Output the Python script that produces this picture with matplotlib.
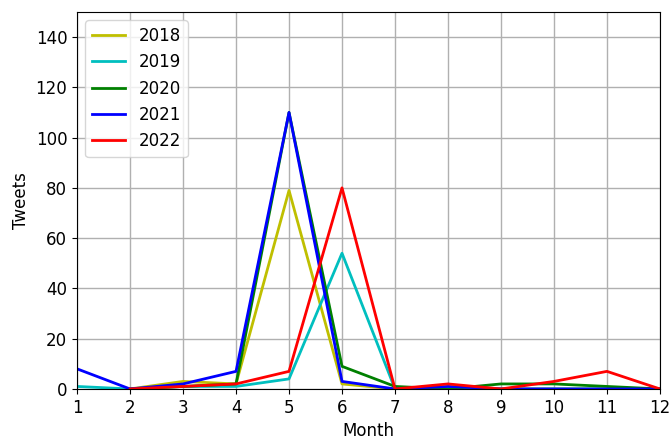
import numpy as np
import matplotlib
matplotlib.use("Agg")
import matplotlib.pyplot as plt

months = list(range(1, 13))
nan = np.nan

tweets_2018 = [nan, 0, 3, 2, 79, 2, 0, 0, 0, 0, 0, 0]
tweets_2019 = [1, 0, 1, 1, 4, 54, 0, 0, 0, 0, 0, 0]
tweets_2020 = [nan, 0, 1, 2, 110, 9, 1, 0, 2, 2, 1, 0]
tweets_2021 = [8, 0, 2, 7, 110, 3, 0, 1, 0, 0, 0, 0]
tweets_2022 = [nan, 0, 1, 2, 7, 80, 0, 2, 0, 3, 7, 0]

series = [
    ("2018", tweets_2018, "y"),
    ("2019", tweets_2019, "c"),
    ("2020", tweets_2020, "g"),
    ("2021", tweets_2021, "b"),
    ("2022", tweets_2022, "r"),
]

fig = plt.figure(figsize=(6.7, 4.42), dpi=100)
ax = fig.add_axes([0.115, 0.12, 0.87, 0.853])

for label, vals, col in series:
    ax.plot(months, vals, color=col, linewidth=2, label=label)

ax.set_xlim(1, 12)
ax.set_ylim(0, 150)
ax.set_xticks(months)
ax.set_yticks(range(0, 141, 20))
ax.tick_params(labelsize=12)
ax.set_xlabel("Month", fontsize=12)
ax.set_ylabel("Tweets", fontsize=12)
ax.grid(True, color="#b0b0b0", linewidth=1)
ax.legend(loc="upper left", fontsize=12)

fig.savefig("out.png", dpi=100)
